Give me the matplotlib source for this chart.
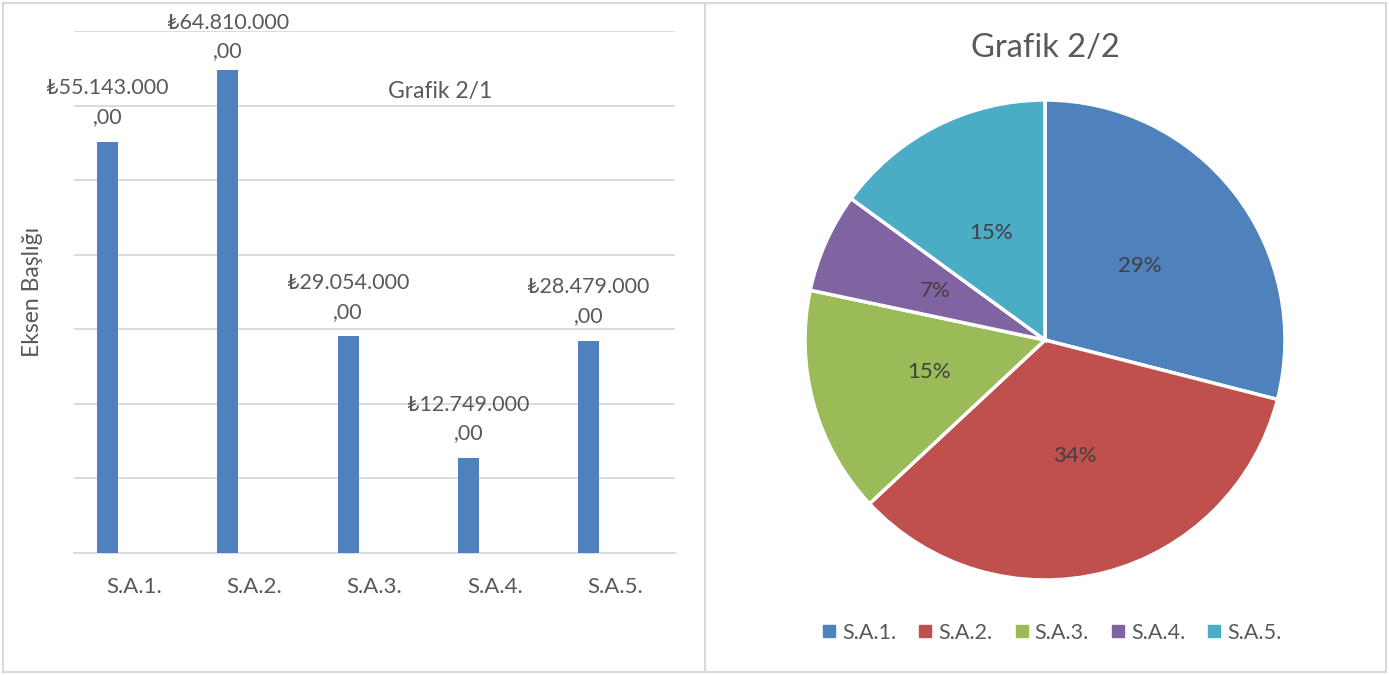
import matplotlib.pyplot as plt
from matplotlib.lines import Line2D
from matplotlib.patches import Rectangle
import numpy as np

plt.rcParams['font.family'] = ['Lato', 'DejaVu Sans']

# --------------------------
# Data
# --------------------------
categories = ["S.A.1.", "S.A.2.", "S.A.3.", "S.A.4.", "S.A.5."]
amounts = [55143000, 64810000, 29054000, 12749000, 28479000]
bar_labels = ["₺55.143.000\n,00", "₺64.810.000\n,00", "₺29.054.000\n,00",
              "₺12.749.000\n,00", "₺28.479.000\n,00"]
pie_colors = ["#4F81BD", "#C0504D", "#9BBB59", "#8064A2", "#4BACC6"]

text_gray = "#595959"
grid_gray = "#D9D9D9"

W, H = 1389, 675
fig = plt.figure(figsize=(W / 100, H / 100), dpi=100)

# panel borders
for x0, x1 in [(3, 705), (705, 1386)]:
    fig.add_artist(Rectangle((x0 / W, 3 / H), (x1 - x0) / W, (H - 6) / H,
                             transform=fig.transFigure, fill=False,
                             edgecolor=grid_gray, linewidth=1.5))

# --------------------------
# Bar chart (Grafik 2/1)
# --------------------------
ax = fig.add_axes([74 / W, 122 / H, 601 / W, 522 / H])
x = np.arange(len(categories))
ax.bar(x - 0.22, amounts, width=0.175, color="#4F81BD", zorder=3)
for xi, v, lab in zip(x, amounts, bar_labels):
    # tallest label gets squeezed down a bit so it stays inside the panel
    off = 6 if v == max(amounts) else 10.5
    ax.annotate(lab, (xi - 0.22, v), xytext=(0, off), textcoords="offset points",
                ha="center", va="bottom", fontsize=15.5, color=text_gray,
                linespacing=1.55)

ax.set_xlim(-0.5, 4.5)
ax.set_ylim(0, 70000000)
ax.set_yticks(np.arange(0, 70000001, 10000000))
ax.set_yticklabels([])
ax.set_xticks(x)
ax.set_xticklabels(categories, fontsize=16, color=text_gray)
ax.tick_params(axis="both", length=0)
ax.tick_params(axis="x", pad=17)
ax.grid(axis="y", color=grid_gray, linewidth=1.3, zorder=0)
for s in ["top", "right", "left"]:
    ax.spines[s].set_visible(False)
ax.spines["bottom"].set_color(grid_gray)
ax.spines["bottom"].set_linewidth(1.3)
ax.set_ylabel("Eksen Başlığı", fontsize=16.5, color=text_gray)
ax.yaxis.set_label_coords(-0.052, 0.5)
ax.text(0.61, 0.885, "Grafik 2/1", transform=ax.transAxes, ha="center",
        va="center", fontsize=16.5, color=text_gray)

# --------------------------
# Pie chart (Grafik 2/2)
# --------------------------
pax = fig.add_axes([805 / W, 95 / H, 480 / W, 480 / H])
wedges, _, autotexts = pax.pie(amounts, colors=pie_colors, startangle=90,
                               counterclock=False, autopct="%1.0f%%",
                               pctdistance=0.5,
                               wedgeprops=dict(edgecolor="white", linewidth=2.5),
                               textprops=dict(fontsize=16, color="#404040"))
pax.set_xlim(-1, 1)
pax.set_ylim(-1, 1)
pax.set_aspect("equal")
fig.text(1045 / W, (H - 48) / H, "Grafik 2/2", ha="center", va="center",
         fontsize=23.5, color=text_gray)

handles = [Line2D([], [], marker="s", linestyle="none", markersize=8,
                  markerfacecolor=c, markeredgecolor=c) for c in pie_colors]
fig.legend(handles, categories, loc="center", bbox_to_anchor=(1050 / W, 42 / H),
           ncol=5, frameon=False, fontsize=15.5, labelcolor=text_gray,
           handletextpad=0.1, columnspacing=0.85, handlelength=1.0)

plt.savefig("out.png", dpi=100)
